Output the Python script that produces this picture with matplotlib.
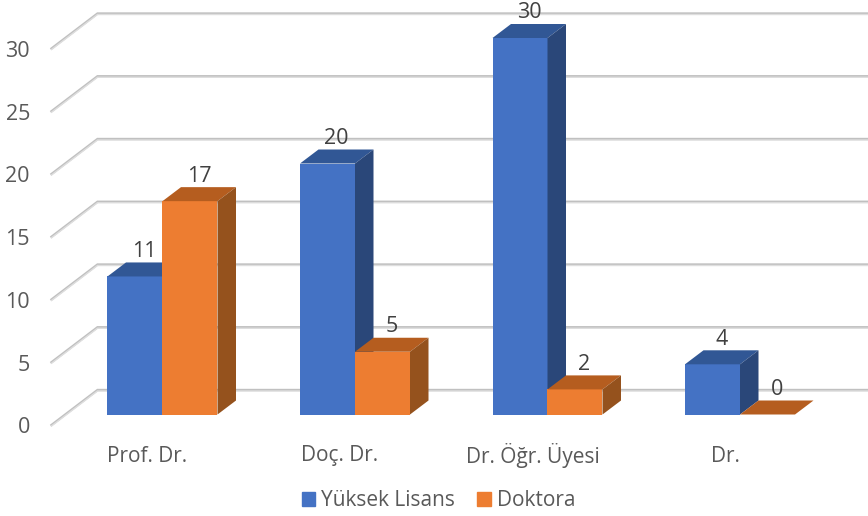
"""Faux-3D clustered column chart: academic staff by title and degree."""

import matplotlib

matplotlib.use("Agg")
import matplotlib.pyplot as plt  # noqa: E402
from matplotlib.patches import Patch  # noqa: E402

plt.rcParams["font.family"] = ["Open Sans", "DejaVu Sans"]

CATEGORIES = ["Prof. Dr.", "Doç. Dr.", "Dr. Öğr. Üyesi", "Dr."]
YUKSEK_LISANS = [11, 20, 30, 4]
DOKTORA = [17, 5, 2, 0]
Y_TICKS = [0, 5, 10, 15, 20, 25, 30]

BLUE = ("#4472c4", "#315795", "#2a4779")  # front, top, side
ORANGE = ("#ed7d31", "#b55d1f", "#95521d")

# one x unit is the distance between two groups, y is in chart values
PX_X = 192.5
PX_Y = 12.55
BAR_W = 55 / PX_X
DEPTH_X = 18.5 / PX_X
DEPTH_Y = 14 / PX_Y
X_ORIGIN = 162.5


def draw_bar(ax, left, value, colors, zorder):
    right = left + BAR_W
    top = value + DEPTH_Y
    ax.bar(left, value, width=BAR_W, align="edge", color=colors[0], zorder=zorder)
    ax.fill([left, right, right + DEPTH_X, left + DEPTH_X],
            [value, value, top, top], color=colors[1], lw=0, zorder=zorder)
    ax.fill([right, right + DEPTH_X, right + DEPTH_X, right],
            [0, DEPTH_Y, top, value], color=colors[2], lw=0, zorder=zorder)
    ax.annotate(str(value), (left + BAR_W / 2 + DEPTH_X / 2, top),
                xytext=(0, 11 * 0.72), textcoords="offset points",
                ha="center", va="center", fontsize=15.5, color="#404040",
                zorder=zorder + 5)


fig = plt.figure(figsize=(8.68, 5.16), dpi=100)
ax = fig.add_axes([0, 0, 1, 1])
ax.set_xlim(-X_ORIGIN / PX_X, (868 - X_ORIGIN) / PX_X)
ax.set_ylim((414.5 - 516) / PX_Y, 414.5 / PX_Y)
ax.axis("off")

# side wall and back wall grid lines
wall_x0 = -111 / PX_X
wall_x1 = -65 / PX_X
for tick in Y_TICKS:
    front = tick - 10.5 / PX_Y
    back = tick + 24.5 / PX_Y
    ax.plot([wall_x0, wall_x1, 10], [front, back, back],
            color="#c0c0c0", lw=1.7, zorder=1, solid_joinstyle="miter")
    ax.plot([wall_x0, wall_x1, 10],
            [front - 1 / PX_Y, back - 1 / PX_Y, back - 1 / PX_Y],
            color="#dedede", lw=1.0, zorder=1, solid_joinstyle="miter")
    ax.annotate(str(tick), (wall_x0, front), xytext=(-15.5, -2),
                textcoords="offset points", ha="right", va="center",
                fontsize=15.5, color="#595959")

for i, name in enumerate(CATEGORIES):
    draw_bar(ax, i - BAR_W, YUKSEK_LISANS[i], BLUE, 3)
    draw_bar(ax, i, DOKTORA[i], ORANGE, 4)
    ax.annotate(name, (i, 0), xytext=(-15 * 0.72, -41.5 * 0.72),
                textcoords="offset points", ha="center", va="center",
                fontsize=15, color="#595959")

handles = [Patch(color=BLUE[0], label="Yüksek Lisans"),
           Patch(color=ORANGE[0], label="Doktora")]
ax.legend(handles=handles, ncol=2, frameon=False, loc="center",
          bbox_to_anchor=(438.5 / 868, 1 - 501 / 516), fontsize=15,
          labelcolor="#595959", handlelength=0.65, handleheight=0.65,
          handletextpad=0.3, columnspacing=1.05, borderpad=0, borderaxespad=0)

fig.savefig("out.png", dpi=100)
plt.close(fig)
